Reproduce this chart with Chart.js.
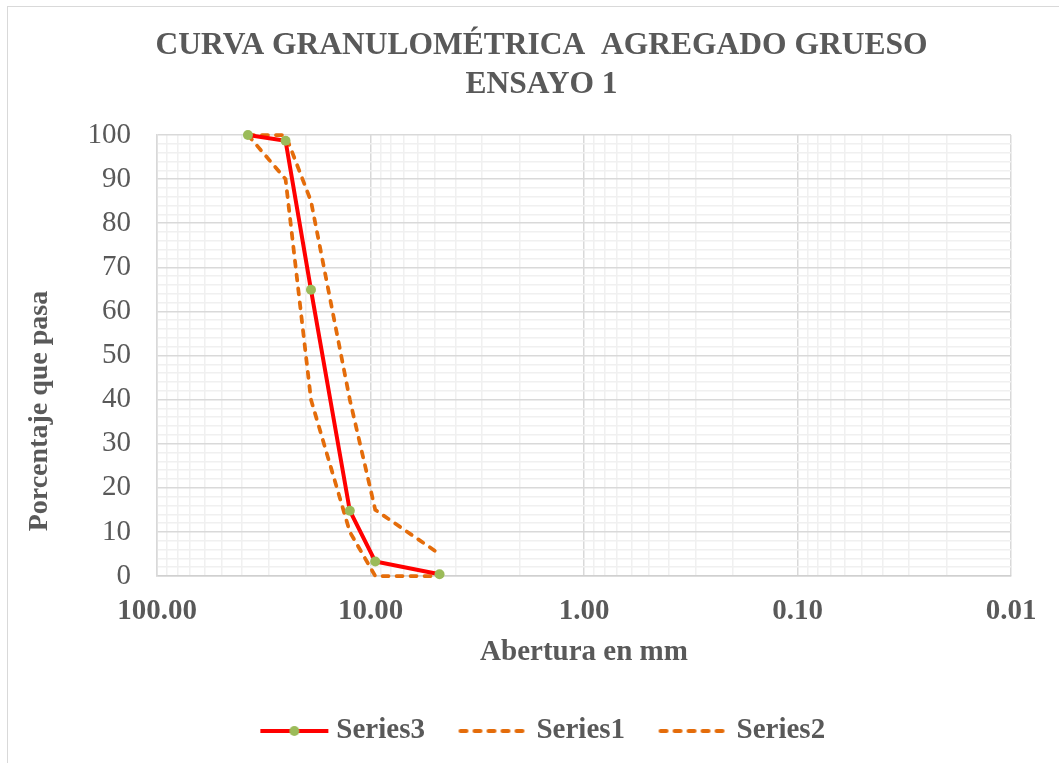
<!DOCTYPE html>
<html lang="es">
<head>
<meta charset="UTF-8" />
<title>Curva granulométrica</title>
<style>
  body {
    margin: 0;
    background: #fff;
    overflow: hidden;
  }
  .marco {
    position: absolute;
    left: 7px;
    top: 6px;
    width: 1100px;
    height: 800px;
    border: 1px solid #d9d9d9;
  }
  canvas {
    position: absolute;
    left: 0;
    top: 0;
  }
</style>
</head>
<body>

<div class="marco"></div>
<canvas id="curva" width="1059" height="763"></canvas>

<script src="https://cdn.jsdelivr.net/npm/chart.js"></script>
<script>
// datos
const aberturas = [37.5, 25, 19, 12.5, 9.5, 4.75];   // mm
const serie3 = [100, 98.7, 64.9, 14.8, 3.3, 0.4];    // ensayo
const serie1 = [100, 90, 40, 10, 0, 0];              // limite inferior
const serie2 = [100, 100, 85, 40, 15, 5];            // limite superior
const nombres = ['Series3', 'Series1', 'Series2'];

const xDecadas = [100, 10, 1, 0.1, 0.01];
const xEtiquetas = ['100.00', '10.00', '1.00', '0.10', '0.01'];
const yMayores = [0, 10, 20, 30, 40, 50, 60, 70, 80, 90, 100];

const FUENTE = "'Liberation Serif', 'Times New Roman', serif";
const GRIS = '#595959';
const ROJO = '#ff0000';
const VERDE = '#9bbb59';
const NARANJA = '#e46c0a';
const GUION = [6, 8];

function puntos(ys) {
    return aberturas.map((x, i) => ({ x: x, y: ys[i] }));
}

function esDecada(v) {
    const l = Math.log10(v);
    return Math.abs(l - Math.round(l)) < 1e-6;
}

// iconos de la leyenda
function icono(tipo) {
    const c = document.createElement('canvas');
    c.width = 81;
    c.height = 20;
    const g = c.getContext('2d');
    g.lineWidth = 4;
    g.strokeStyle = tipo === 'ensayo' ? ROJO : NARANJA;
    if (tipo !== 'ensayo') {
        g.setLineDash(GUION);
        g.lineCap = 'round';
    }
    g.beginPath();
    g.moveTo(11, 10);
    g.lineTo(79, 10);
    g.stroke();
    if (tipo === 'ensayo') {
        g.fillStyle = VERDE;
        g.beginPath();
        g.arc(45, 10, 5, 0, Math.PI * 2);
        g.fill();
    }
    return c;
}
const iconos = [icono('ensayo'), icono('limite'), icono('limite')];

const tituloY = {
    id: 'tituloY',
    afterDraw(chart) {
        const { ctx, chartArea } = chart;
        ctx.save();
        ctx.font = 'bold 28px ' + FUENTE;
        ctx.fillStyle = GRIS;
        ctx.textAlign = 'center';
        ctx.textBaseline = 'alphabetic';
        ctx.translate(47, chartArea.top + (chartArea.bottom - chartArea.top) * 0.626);
        ctx.rotate(-Math.PI / 2);
        ctx.fillText('Porcentaje que pasa', 0, 0);
        ctx.restore();
    }
};

new Chart(document.getElementById('curva'), {
    type: 'line',
    data: {
        datasets: [
            {
                label: nombres[0],
                data: puntos(serie3),
                borderColor: ROJO,
                borderWidth: 4,
                pointRadius: 5,
                pointBackgroundColor: VERDE,
                pointBorderColor: VERDE,
                pointBorderWidth: 0,
                tension: 0,
                clip: false
            },
            {
                label: nombres[1],
                data: puntos(serie1),
                borderColor: NARANJA,
                borderWidth: 3.75,
                borderDash: GUION,
                borderCapStyle: 'round',
                pointRadius: 0,
                tension: 0,
                clip: false
            },
            {
                label: nombres[2],
                data: puntos(serie2),
                borderColor: NARANJA,
                borderWidth: 3.75,
                borderDash: GUION,
                borderCapStyle: 'round',
                pointRadius: 0,
                tension: 0,
                clip: false
            }
        ]
    },
    options: {
        responsive: false,
        animation: false,
        layout: { padding: { left: 72, right: 48, top: 0, bottom: 7.5 } },
        plugins: {
            tooltip: { enabled: false },
            title: {
                display: true,
                text: ['CURVA GRANULOMÉTRICA  AGREGADO GRUESO', 'ENSAYO 1'],
                color: GRIS,
                font: { family: FUENTE, size: 31.5, weight: 'bold', lineHeight: '39px' },
                padding: { top: 26.5, bottom: 30.5 }
            },
            legend: {
                position: 'bottom',
                labels: {
                    usePointStyle: true,
                    pointStyleWidth: 64,
                    padding: 33,
                    color: GRIS,
                    font: { family: FUENTE, size: 29, weight: 'bold' },
                    generateLabels: chart => chart.data.datasets.map((ds, i) => ({
                        text: ds.label,
                        pointStyle: iconos[i],
                        datasetIndex: i,
                        hidden: false,
                        lineWidth: 0,
                        fillStyle: 'transparent',
                        strokeStyle: 'transparent',
                        fontColor: GRIS
                    }))
                }
            }
        },
        scales: {
            x: {
                type: 'logarithmic',
                reverse: true,
                min: 0.01,
                max: 100,
                afterBuildTicks: scale => {
                    const t = [];
                    for (let e = -2; e < 2; e++) {
                        for (let d = 1; d < 10; d++) {
                            t.push({ value: Number((d * Math.pow(10, e)).toPrecision(6)) });
                        }
                    }
                    t.push({ value: 100 });
                    scale.ticks = t;
                },
                afterFit: scale => { scale.height = 107.5; },
                ticks: {
                    autoSkip: false,
                    maxRotation: 0,
                    padding: 18.6,
                    color: GRIS,
                    font: { family: FUENTE, size: 29, weight: 'bold' },
                    callback: v => {
                        const i = xDecadas.findIndex(d => Math.abs(d - v) / d < 1e-6);
                        return i >= 0 ? xEtiquetas[i] : '';
                    }
                },
                grid: {
                    drawTicks: false,
                    color: c => (c.tick && esDecada(c.tick.value)) ? '#d9d9d9' : '#f0f0f0',
                    lineWidth: 1.5
                },
                border: { color: '#d0d0d0', width: 1.5 },
                title: {
                    display: true,
                    text: 'Abertura en mm',
                    color: GRIS,
                    font: { family: FUENTE, size: 29, weight: 'bold' },
                    padding: { top: 0, bottom: 13.1 }
                }
            },
            y: {
                type: 'linear',
                min: 0,
                max: 100,
                afterBuildTicks: scale => {
                    const t = [];
                    for (let v = 0; v <= 100; v += 2) t.push({ value: v });
                    scale.ticks = t;
                },
                afterFit: scale => { scale.width = 85; },
                ticks: {
                    autoSkip: false,
                    padding: 26,
                    color: GRIS,
                    font: { family: FUENTE, size: 29 },
                    callback: v => yMayores.includes(v) ? String(v) : ''
                },
                grid: {
                    drawTicks: false,
                    color: c => (c.tick && yMayores.includes(c.tick.value)) ? '#d9d9d9' : '#f0f0f0',
                    lineWidth: 1.5
                },
                border: { color: '#d9d9d9', width: 1.5 }
            }
        }
    },
    plugins: [tituloY]
});
</script>

</body>
</html>
